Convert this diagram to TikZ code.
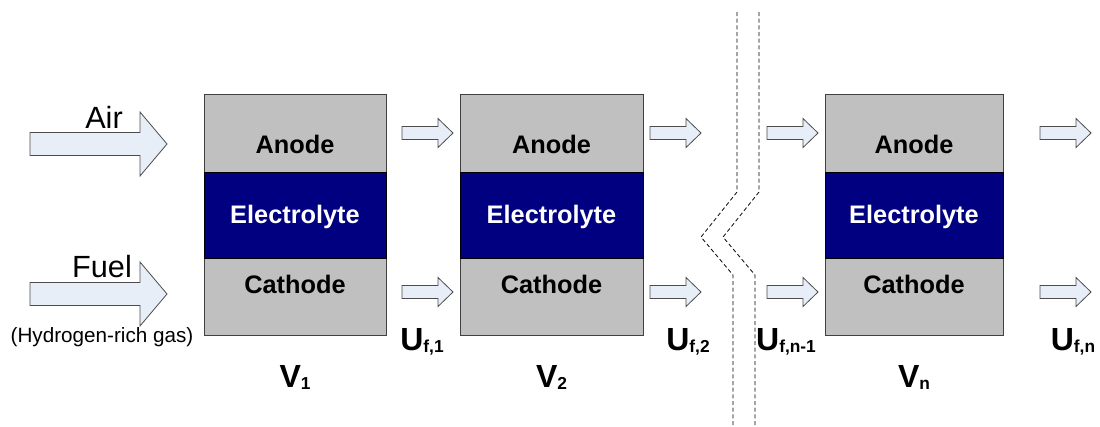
\documentclass[tikz,border=0pt]{standalone}
\usepackage{fontspec}
\setmainfont{Liberation Sans}
\definecolor{cellgrey}{HTML}{C0C0C0}
\definecolor{elecblue}{HTML}{000080}
\definecolor{flowfill}{HTML}{E8EEF8}
\newcommand\lowidx[1]{\raisebox{-2pt}{\fontsize{13}{13}\selectfont #1}}
\begin{document}
\begin{tikzpicture}[x=0.75pt, y=-0.75pt,
    layer/.style={draw=black!75, line width=0.6pt},
    celltext/.style={anchor=base, font=\fontsize{19}{22}\selectfont\bfseries},
    flowarrow/.style={draw=black!70, fill=flowfill, line width=0.6pt},
    gaslabel/.style={anchor=base, font=\fontsize{23}{27}\selectfont},
    idx/.style={anchor=base, font=\fontsize{24}{28}\selectfont\bfseries},
    cut/.style={draw=black, dash pattern=on 3pt off 2pt, line width=0.6pt}]
    \useasboundingbox (0,0) rectangle (1100,426);
    % cells
    \foreach \n/\xl/\xr in {1/204/386, 2/460/643, n/825/1003} {
        \filldraw[layer, fill=cellgrey] (\xl,94) rectangle (\xr,172);
        \filldraw[layer, fill=cellgrey] (\xl,258) rectangle (\xr,335);
        \filldraw[layer, fill=elecblue, draw=black] (\xl,172) rectangle (\xr,258);
        \node[celltext] (anode\n) at ({(\xl+\xr)/2},153) {Anode};
        \node[celltext, white] (elec\n) at ({(\xl+\xr)/2},223) {Electrolyte};
        \node[celltext] (cath\n) at ({(\xl+\xr)/2},293) {Cathode};
        \node[idx] (v\n) at ({(\xl+\xr)/2},387) {V\lowidx{\n}};
    }
    % inlet arrows
    \foreach \y in {144,294}
        \draw[flowarrow] (30,\y-11.5) -- ++(110,0) -- ++(0,-20.5) -- ++(27,32)
            -- ++(-27,32) -- ++(0,-20.5) -- ++(-110,0) -- cycle;
    \node[gaslabel] (air) at (104,128) {Air};
    \node[gaslabel] (fuel) at (102,277) {Fuel};
    \node[anchor=base, font=\fontsize{15.5}{18}\selectfont] (fuelnote) at (102,342) {(Hydrogen-rich gas)};
    % flow between cells
    \foreach \x in {402,650,767,1040}
        \foreach \y in {133,292}
            \draw[flowarrow] (\x,\y-6.5) -- ++(36,0) -- ++(0,-8) -- ++(15,14.5)
                -- ++(-15,14.5) -- ++(0,-8) -- ++(-36,0) -- cycle;
    \foreach \x/\s in {422/{f,1}, 688/{f,2}, 786/{f,n-1}, 1073/{f,n}}
        \node[idx] (u\x) at (\x,350) {U\lowidx{\s}};
    % break between cell 2 and cell n
    \draw[cut] (737,12) -- (737,192) -- (701,237) -- (733,275) -- (733,426);
    \draw[cut] (759,12) -- (759,192) -- (723,237) -- (755,275) -- (755,426);
\end{tikzpicture}
\end{document}
